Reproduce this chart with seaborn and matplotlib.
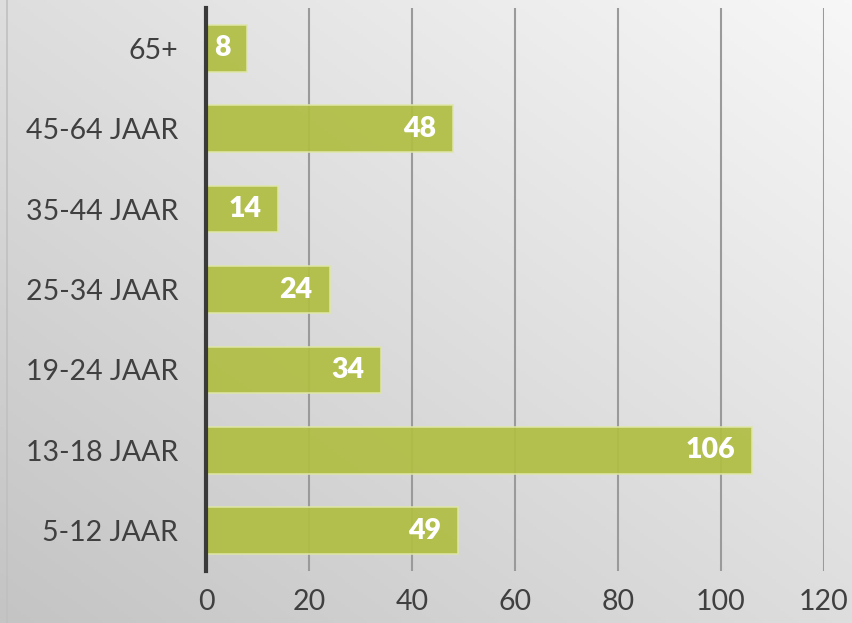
import numpy as np
import pandas as pd
import matplotlib
matplotlib.use("Agg")
import matplotlib.pyplot as plt
import seaborn as sns

categories = ["65+", "45-64 JAAR", "35-44 JAAR", "25-34 JAAR", "19-24 JAAR", "13-18 JAAR", "5-12 JAAR"]
values = [8, 48, 14, 24, 34, 106, 49]
xticks = [0, 20, 40, 60, 80, 100, 120]

df = pd.DataFrame({"cat": categories, "val": values})

sns.set_style("white")
plt.rcParams["font.family"] = ["Lato", "DejaVu Sans"]

fig = plt.figure(figsize=(8.53, 6.23), dpi=100)

# background gradient
bg = fig.add_axes([0, 0, 1, 1], zorder=-10)
yy, xx = np.mgrid[0:1:200j, 0:1:200j]
grad = 0.5 * (xx + yy)
bg.imshow(grad, cmap=matplotlib.colors.LinearSegmentedColormap.from_list("g", ["#c4c4c4", "#f7f7f7"]),
          origin="lower", extent=[0, 1, 0, 1], aspect="auto")
bg.set_axis_off()
bg.plot([7/853, 7/853], [0, 1], color="#c0c0c0", lw=1.2, transform=bg.transAxes)
bg.set_xlim(0, 1); bg.set_ylim(0, 1)

ax = fig.add_axes([206/853, 1 - 571/623, (824 - 206)/853, (571 - 8)/623])
ax.set_facecolor("none")

sns.barplot(data=df, x="val", y="cat", orient="h", color="#b0be42", alpha=0.92,
            width=0.58, edgecolor="#dfe6a8", linewidth=1.2, ax=ax, zorder=3, saturation=1)

ax.set_xlim(0, 120)
ax.set_ylim(6.5, -0.5)
ax.set_xticks(xticks)
ax.set_xticklabels([str(t) for t in xticks])
for t in xticks[1:]:
    ax.axvline(t, color="#9a9a9a", lw=1.5, zorder=1)

for s in ["top", "right", "bottom"]:
    ax.spines[s].set_visible(False)
ax.spines["left"].set_color("#3a3a3a")
ax.spines["left"].set_linewidth(3)
ax.spines["left"].set_zorder(5)

ax.tick_params(axis="both", length=0, labelsize=20.5, labelcolor="#404040")
ax.tick_params(axis="y", pad=20)
ax.tick_params(axis="x", pad=13)
ax.set_xlabel("")
ax.set_ylabel("")

for i, v in enumerate(values):
    ax.text(v - 3.3, i, str(v), ha="right", va="center", color="white",
            fontsize=20.5, fontweight="heavy", zorder=6)

fig.savefig("out.png", dpi=100)
